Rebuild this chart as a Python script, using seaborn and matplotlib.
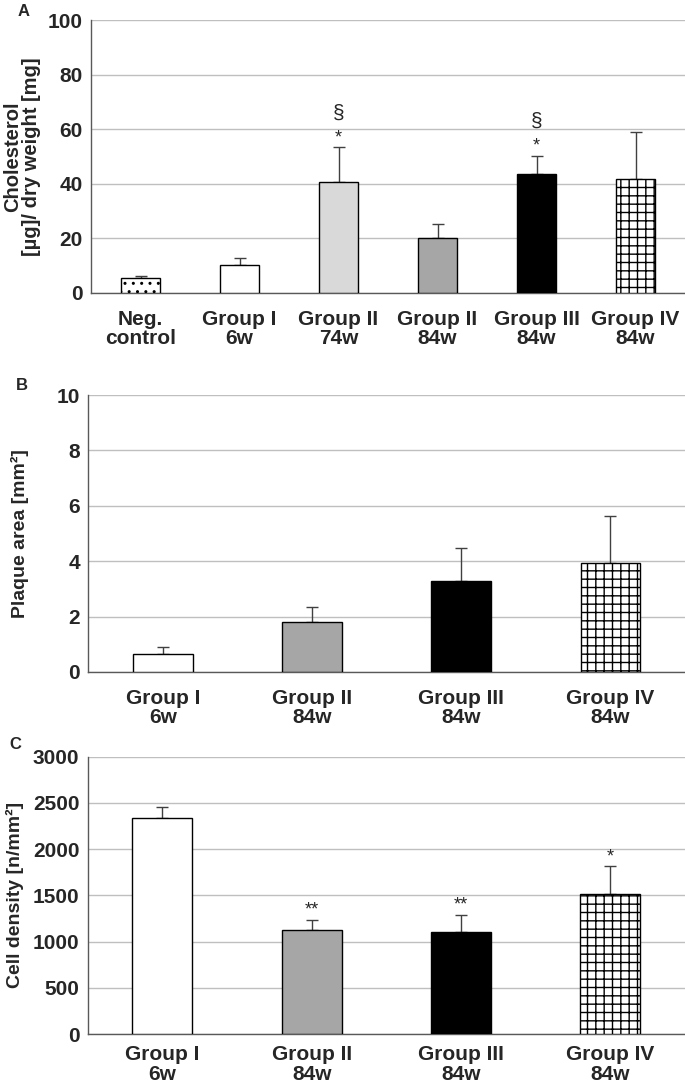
import numpy as np
import pandas as pd
import matplotlib.pyplot as plt
import seaborn as sns

# Panel A: cholesterol content
chol_groups = ['Neg.\ncontrol', 'Group I\n6w', 'Group II\n74w', 'Group II\n84w', 'Group III\n84w', 'Group IV\n84w']
chol_mean = [5.5, 10.2, 40.8, 20.1, 43.7, 41.8]
chol_sd = [0.7, 2.7, 12.7, 5.2, 6.6, 17.0]
chol_star = ['', '', '*', '', '*', '']
chol_sect = ['', '', '§', '', '§', '']
chol_colors = ['white', 'white', '#d9d9d9', '#a6a6a6', 'black', 'white']
chol_hatch = ['..', '', '', '', '', '++']

# Panel B: plaque area
plaque_groups = ['Group I\n6w', 'Group II\n84w', 'Group III\n84w', 'Group IV\n84w']
plaque_mean = [0.66, 1.80, 3.28, 3.93]
plaque_sd = [0.23, 0.54, 1.19, 1.71]

# Panel C: cell density
dens_groups = ['Group I\n6w', 'Group II\n84w', 'Group III\n84w', 'Group IV\n84w']
dens_mean = [2334, 1124, 1102, 1513]
dens_sd = [118, 111, 187, 302]
dens_star = ['', '**', '**', '*']

four_colors = ['white', '#a6a6a6', 'black', 'white']
four_hatch = ['', '', '', '++']

sns.set_style('white')
narrow = ['Liberation Sans Narrow', 'Liberation Sans', 'DejaVu Sans']
sans = ['Liberation Sans', 'DejaVu Sans']
plt.rcParams['font.family'] = sans
plt.rcParams['hatch.linewidth'] = 1.0

spine_col = '#595959'


def draw_panel(ax, groups, mean, sd, colors, hatches, ymax, step, ylabel,
               label_x, label_size=14, xpad=12):
    n = len(groups)
    df = pd.DataFrame({'group': groups, 'mean': mean})
    sns.barplot(data=df, x='group', y='mean', hue='group', palette=colors,
                legend=False, width=0.4, edgecolor='black', linewidth=1,
                ax=ax, zorder=3)
    for p, h in zip(ax.patches, hatches):
        p.set_hatch(h)
    ax.errorbar(np.arange(n), mean, yerr=[np.zeros(n), sd], fmt='none',
                ecolor='#404040', elinewidth=1, capsize=4, capthick=1, zorder=2)
    ax.set_xlim(-0.5, n - 0.5)
    ax.set_ylim(0, ymax)
    ticks = np.arange(0, ymax + step / 2, step)
    ax.set_yticks(ticks)
    ax.set_yticklabels([str(int(v)) for v in ticks],
                       fontsize=15, fontweight='bold', family=narrow)
    ax.set_xticks(np.arange(n))
    ax.set_xticklabels(groups, fontsize=15, fontweight='bold', family=narrow,
                       linespacing=1.05)
    ax.set_xticks(np.arange(-0.5, n, 1), minor=True)
    ax.tick_params(axis='x', which='major', length=0, pad=xpad)
    ax.tick_params(axis='x', which='minor', length=5, width=1, color=spine_col,
                   direction='out')
    ax.tick_params(axis='y', which='major', length=4, width=1, color=spine_col,
                   direction='out', pad=2)
    ax.yaxis.grid(True, color='#bfbfbf', linewidth=1)
    ax.set_axisbelow(True)
    for s in ['top', 'right']:
        ax.spines[s].set_visible(False)
    for s in ['left', 'bottom']:
        ax.spines[s].set_color(spine_col)
        ax.spines[s].set_linewidth(1)
    ax.set_xlabel('')
    ax.set_ylabel(ylabel, fontsize=label_size, fontweight='bold', family=sans,
                  linespacing=1.0)
    ax.yaxis.set_label_coords(label_x, 0.5)


def add_marks(ax, mean, sd, marks, ymax, offset, size):
    for i, m in enumerate(marks):
        if m:
            ax.text(i, mean[i] + sd[i] + offset * ymax, m, ha='center',
                    va='baseline', fontsize=size, family=sans, zorder=4)


fig = plt.figure(figsize=(6.85, 10.88), dpi=100)
axA = fig.add_axes([0.133, 0.7307, 0.867, 0.2509])
axB = fig.add_axes([0.129, 0.3824, 0.871, 0.2545])
axC = fig.add_axes([0.128, 0.0496, 0.872, 0.2549])

draw_panel(axA, chol_groups, chol_mean, chol_sd, chol_colors, chol_hatch,
           100, 20, 'Cholesterol\n[µg]/ dry weight [mg]', -0.084, label_size=14.5)
add_marks(axA, chol_mean, chol_sd, chol_star, 100, 0.018, 13)
add_marks(axA, chol_mean, chol_sd, chol_sect, 100, 0.105, 15)

draw_panel(axB, plaque_groups, plaque_mean, plaque_sd, four_colors, four_hatch,
           10, 2, 'Plaque area [mm²]', -0.10)

draw_panel(axC, dens_groups, dens_mean, dens_sd, four_colors, four_hatch,
           3000, 500, 'Cell density [n/mm²]', -0.107, xpad=8)
add_marks(axC, dens_mean, dens_sd, dens_star, 3000, 0.018, 13)

fig.text(0.025, 0.996, 'A', fontsize=12, fontweight='bold', va='top')
fig.text(0.023, 0.653, 'B', fontsize=12, fontweight='bold', va='top')
fig.text(0.013, 0.323, 'C', fontsize=12, fontweight='bold', va='top')

fig.savefig('out.png', dpi=100)
